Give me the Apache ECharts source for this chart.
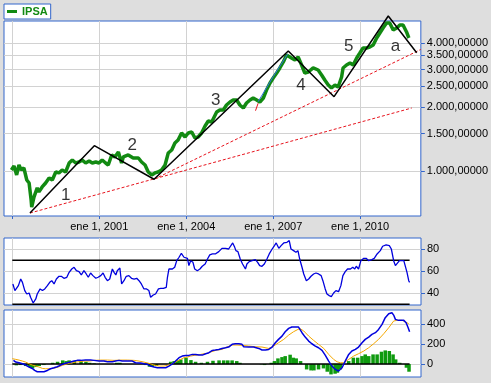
<!DOCTYPE html>
<html>
<head>
<meta charset="utf-8">
<script src="https://cdn.jsdelivr.net/npm/echarts@6/dist/echarts.min.js"></script>
<style>
html,body{margin:0;padding:0;background:#dedede;}
#c{width:491px;height:383px;}
</style>
</head>
<body>
<div id="c"></div>
<script>
// ---- data (x = decimal year) ----
const xTickYears = [1998, 2001, 2004, 2007, 2010];
const xLabelYears = [2001, 2004, 2007, 2010];
const priceTicks = [1000, 1500, 2000, 2500, 3000, 3500, 4000];
const rsiTicks = [40, 60, 80];
const macdTicks = [0, 200, 400];

const ipsa = [[1997.97,1011],[1998.06,1056],[1998.15,958],[1998.23,1067],[1998.31,1011],[1998.40,1033],[1998.50,907],[1998.58,878],[1998.65,730],[1998.67,677],[1998.75,755],[1998.86,832],[1998.92,797],[1999.03,841],[1999.15,878],[1999.27,927],[1999.38,907],[1999.50,989],[1999.61,979],[1999.72,1011],[1999.84,989],[1999.96,1090],[2000.07,1127],[2000.19,1090],[2000.30,1102],[2000.41,1127],[2000.53,1090],[2000.65,1114],[2000.76,1090],[2000.88,1102],[2000.99,1090],[2001.10,1127],[2001.22,1090],[2001.31,1067],[2001.43,1189],[2001.54,1164],[2001.66,1228],[2001.77,1090],[2001.83,1164],[2002.00,1189],[2002.17,1151],[2002.35,1151],[2002.46,1102],[2002.58,1067],[2002.69,989],[2002.81,958],[2002.92,979],[2003.03,989],[2003.15,1011],[2003.27,1067],[2003.38,1215],[2003.50,1255],[2003.61,1354],[2003.72,1399],[2003.84,1509],[2003.96,1445],[2004.07,1509],[2004.19,1525],[2004.30,1430],[2004.41,1445],[2004.53,1509],[2004.65,1628],[2004.76,1719],[2004.88,1700],[2005.05,1894],[2005.16,1936],[2005.28,1936],[2005.39,2044],[2005.51,2111],[2005.62,2158],[2005.74,2158],[2005.85,2044],[2005.97,1978],[2006.08,2088],[2006.20,2158],[2006.31,2205],[2006.43,2158],[2006.54,2111],[2006.66,2205],[2006.77,2404],[2006.89,2594],[2007.00,2738],[2007.12,2891],[2007.23,3052],[2007.35,3257],[2007.46,3513],[2007.51,3589],[2007.63,3401],[2007.75,3328],[2007.86,3438],[2007.98,3152],[2008.09,2891],[2008.21,2922],[2008.38,3052],[2008.55,2986],[2008.67,2829],[2008.78,2679],[2008.90,2538],[2009.01,2457],[2009.13,2538],[2009.24,2484],[2009.36,2768],[2009.41,3052],[2009.53,3152],[2009.65,3221],[2009.76,3152],[2009.88,3401],[2009.99,3589],[2010.10,3789],[2010.22,3789],[2010.33,3830],[2010.45,3914],[2010.57,4223],[2010.68,4459],[2010.79,4706],[2010.91,4968],[2011.02,4968],[2011.14,4606],[2011.26,4706],[2011.37,4862],[2011.48,4862],[2011.60,4507],[2011.68,4223]];

const wave = [[1998.61,634],[2000.83,1315],[2002.89,914],[2007.52,3667],[2009.10,2236],[2010.97,5358],[2011.95,3602]];
const fanLow = [[1998.61,634],[2011.78,1978]];
const fanMid = [[2002.89,914],[2012.09,3729]];
const redTick = [[2006.39,1921],[2006.48,2082]];
const blueTrend = [[2006.48,2118],[2007.00,2777],[2007.50,3550]];
const waveLabels = [[1999.84,771,'1'],[2002.14,1315,'2'],[2005.02,2158,'3'],[2007.96,2538,'4'],[2009.61,3843,'5'],[2011.22,3851,'a']];

const rsi = [[1998.02,48.5],[1998.09,42.5],[1998.15,41],[1998.21,47],[1998.29,53],[1998.35,50],[1998.43,42.5],[1998.50,39.4],[1998.58,40.3],[1998.63,36.4],[1998.72,31.2],[1998.81,34.9],[1998.86,39.4],[1998.96,44],[1999.04,42.5],[1999.12,44],[1999.21,47],[1999.29,50],[1999.36,51.5],[1999.44,48.5],[1999.52,53],[1999.61,55.5],[1999.69,55.5],[1999.78,53.7],[1999.88,54.6],[1999.96,59.1],[2000.05,62.1],[2000.13,63.7],[2000.21,60.6],[2000.30,59.7],[2000.38,56.7],[2000.47,60.6],[2000.55,57.6],[2000.62,54.6],[2000.70,58.5],[2000.78,56.1],[2000.88,53.7],[2000.96,54.6],[2001.05,56.1],[2001.13,58.5],[2001.20,54.6],[2001.28,51.5],[2001.36,53],[2001.45,62.1],[2001.51,59.1],[2001.57,56.7],[2001.62,60.6],[2001.71,63],[2001.77,48.5],[2001.85,51.5],[2001.93,55.5],[2002.02,56.1],[2002.11,53.7],[2002.20,53],[2002.29,53.7],[2002.37,51.5],[2002.45,48.5],[2002.54,44],[2002.63,44],[2002.71,42.5],[2002.77,36.4],[2002.86,38.5],[2002.94,39.4],[2003.04,44],[2003.12,44.5],[2003.21,44.5],[2003.31,45.5],[2003.35,54.6],[2003.40,62.1],[2003.46,63.7],[2003.52,62.1],[2003.60,63.7],[2003.67,69.7],[2003.75,72.8],[2003.83,76.4],[2003.92,72.8],[2003.98,71.2],[2004.04,71.8],[2004.09,65.2],[2004.15,69.7],[2004.23,68.2],[2004.29,62.1],[2004.38,60.6],[2004.47,62.1],[2004.55,64.6],[2004.65,66.7],[2004.73,71.2],[2004.81,74.9],[2004.90,75.8],[2005.00,75.8],[2005.12,77.9],[2005.23,80.9],[2005.35,80.9],[2005.46,80.3],[2005.52,81.8],[2005.60,85.8],[2005.67,81.8],[2005.71,78.8],[2005.78,77.9],[2005.86,71.2],[2005.94,66.7],[2006.04,62.1],[2006.09,66.7],[2006.17,68.8],[2006.27,69.7],[2006.38,70.6],[2006.46,68.2],[2006.53,65.2],[2006.61,64.6],[2006.69,66.7],[2006.78,71.2],[2006.86,75.8],[2006.96,80.3],[2007.04,83.4],[2007.10,85.8],[2007.19,80.9],[2007.27,83.4],[2007.36,85.8],[2007.47,86.4],[2007.55,87.9],[2007.61,80.3],[2007.70,78.8],[2007.78,77.3],[2007.85,78.8],[2007.91,71.2],[2007.99,63.7],[2008.05,57.6],[2008.14,51.5],[2008.22,53],[2008.30,55.5],[2008.39,57.6],[2008.47,58.5],[2008.56,57.6],[2008.65,56.1],[2008.71,51.5],[2008.79,44],[2008.85,39.4],[2008.93,37.9],[2009.00,37],[2009.08,40.3],[2009.16,42.5],[2009.25,41.5],[2009.33,47],[2009.40,56.1],[2009.48,59.7],[2009.56,62.1],[2009.66,62.1],[2009.74,63.7],[2009.81,62.1],[2009.86,64.6],[2009.94,62.1],[2010.02,69.7],[2010.12,71.8],[2010.20,71.8],[2010.29,69.7],[2010.40,70.6],[2010.48,71.8],[2010.58,75.8],[2010.69,78.8],[2010.77,82.8],[2010.89,84],[2011.00,83.4],[2011.07,80.3],[2011.15,69.7],[2011.21,65.2],[2011.27,66.7],[2011.35,69.7],[2011.42,69.7],[2011.50,69.7],[2011.55,68.2],[2011.61,59.1],[2011.67,51.5],[2011.70,50]];
const rsiUpper = [[1998.0,70],[2011.70,70]];
const rsiLower = [[1998.0,30],[2011.70,30]];

const macd = [[1998.04,37],[1998.12,20],[1998.23,13],[1998.35,3],[1998.46,-10],[1998.58,-30],[1998.69,-44],[1998.77,-64],[1998.86,-77],[1998.98,-77],[1999.09,-77],[1999.21,-64],[1999.32,-47],[1999.44,-37],[1999.55,-27],[1999.67,-10],[1999.78,3],[1999.90,13],[2000.01,20],[2000.13,30],[2000.24,37],[2000.36,37],[2000.53,40],[2000.70,40],[2000.82,37],[2000.99,30],[2001.16,30],[2001.28,23],[2001.45,23],[2001.56,30],[2001.68,37],[2001.79,30],[2001.97,30],[2002.14,30],[2002.25,13],[2002.43,10],[2002.54,3],[2002.66,-3],[2002.77,-20],[2002.89,-30],[2003.00,-37],[2003.17,-37],[2003.29,-37],[2003.40,-20],[2003.52,3],[2003.63,30],[2003.75,64],[2003.86,80],[2003.98,87],[2004.09,87],[2004.21,97],[2004.32,97],[2004.44,90],[2004.55,90],[2004.67,104],[2004.78,114],[2004.90,137],[2005.00,141],[2005.12,147],[2005.23,157],[2005.35,164],[2005.46,171],[2005.58,198],[2005.69,204],[2005.81,204],[2005.92,198],[2005.98,174],[2006.15,171],[2006.32,171],[2006.50,157],[2006.61,141],[2006.73,141],[2006.84,147],[2006.96,171],[2007.07,214],[2007.18,248],[2007.30,281],[2007.41,325],[2007.53,358],[2007.64,372],[2007.76,372],[2007.87,372],[2007.93,358],[2007.99,315],[2008.10,271],[2008.22,231],[2008.33,204],[2008.45,181],[2008.56,164],[2008.68,137],[2008.79,90],[2008.91,30],[2009.02,-20],[2009.14,-54],[2009.25,-70],[2009.37,-37],[2009.48,30],[2009.60,97],[2009.71,131],[2009.83,147],[2009.94,171],[2010.06,214],[2010.17,248],[2010.29,271],[2010.40,298],[2010.52,315],[2010.63,348],[2010.75,399],[2010.86,466],[2010.98,506],[2011.09,516],[2011.15,492],[2011.21,449],[2011.32,439],[2011.50,439],[2011.58,415],[2011.65,365],[2011.70,325]];

const signal = [[1998.00,54],[1998.12,47],[1998.23,40],[1998.35,30],[1998.46,20],[1998.58,3],[1998.69,-10],[1998.81,-20],[1998.92,-30],[1999.04,-44],[1999.15,-47],[1999.27,-47],[1999.38,-44],[1999.50,-37],[1999.61,-27],[1999.73,-13],[1999.84,-3],[1999.96,7],[2000.07,13],[2000.19,20],[2000.30,23],[2000.47,30],[2000.65,30],[2000.82,37],[2001.05,40],[2001.28,40],[2001.51,37],[2001.74,40],[2001.97,40],[2002.20,37],[2002.37,30],[2002.54,20],[2002.71,7],[2002.89,-10],[2003.06,-20],[2003.23,-20],[2003.35,-13],[2003.46,-3],[2003.58,13],[2003.69,30],[2003.81,47],[2003.92,64],[2004.04,70],[2004.15,80],[2004.27,87],[2004.38,90],[2004.50,97],[2004.61,104],[2004.73,107],[2004.84,121],[2005.06,141],[2005.23,147],[2005.40,171],[2005.58,191],[2005.75,191],[2005.92,188],[2006.15,181],[2006.38,174],[2006.61,171],[2006.84,157],[2007.01,181],[2007.18,214],[2007.36,248],[2007.53,291],[2007.70,325],[2007.85,348],[2007.93,355],[2008.05,332],[2008.22,281],[2008.39,238],[2008.56,198],[2008.74,157],[2008.91,97],[2009.08,47],[2009.20,23],[2009.31,13],[2009.43,13],[2009.60,47],[2009.77,80],[2009.94,104],[2010.12,131],[2010.29,164],[2010.46,204],[2010.63,248],[2010.81,305],[2010.98,365],[2011.15,432],[2011.26,439],[2011.44,439],[2011.55,425],[2011.67,405]];

const histogram = [[1998.14,-13],[1998.29,-10],[1998.46,-20],[1998.59,-30],[1998.70,-44],[1998.82,-30],[1998.93,-20],[1999.09,-10],[1999.39,13],[1999.56,23],[1999.74,37],[1999.86,30],[1999.96,37],[2000.14,30],[2000.37,30],[2000.54,23],[2000.67,13],[2000.82,7],[2001.60,13],[2001.71,13],[2002.59,-10],[2002.73,-27],[2002.83,-30],[2002.97,-20],[2003.46,23],[2003.58,30],[2003.69,37],[2003.81,47],[2003.99,64],[2004.16,40],[2004.32,23],[2004.52,13],[2004.73,23],[2004.92,33],[2005.13,37],[2005.29,37],[2005.43,37],[2005.58,37],[2005.74,30],[2005.85,13],[2006.59,-3],[2006.70,-10],[2006.93,13],[2007.04,30],[2007.16,57],[2007.30,70],[2007.41,80],[2007.58,94],[2007.69,64],[2007.79,57],[2007.94,30],[2008.15,-54],[2008.30,-64],[2008.40,-64],[2008.56,-54],[2008.73,-44],[2008.86,-77],[2008.99,-104],[2009.13,-97],[2009.21,-87],[2009.31,-54],[2009.60,30],[2009.76,64],[2009.91,64],[2010.06,80],[2010.17,97],[2010.29,80],[2010.44,97],[2010.58,97],[2010.73,124],[2010.86,137],[2011.00,131],[2011.13,97],[2011.22,47],[2011.36,13],[2011.59,-37],[2011.68,-77]];
const zeroLine = [[1998.0,0],[2011.70,0]];

// ---- styling ----
const BLUE = '#3366cc';
const GRID = '#d2d2d2';
const FONT = 'Liberation Sans';
const X_MIN = 1997.714, X_MAX = 2012.093;

function esNum(v) {
  const n = Math.round(v);
  return String(n).replace(/\B(?=(\d{3})+(?!\d))/g, '.') + ',00000';
}

function xAxisFor(i) {
  return {
    type: 'value', gridIndex: i, min: X_MIN, max: X_MAX,
    axisLine: {show: false},
    axisTick: {show: i === 0, customValues: xTickYears, length: 3, lineStyle: {color: BLUE}},
    axisLabel: {show: i === 0, customValues: xLabelYears, formatter: v => 'ene 1, ' + Math.round(v),
      margin: 5, color: '#000', fontSize: 11, fontFamily: FONT},
    splitLine: {show: true, lineStyle: {color: GRID, width: 1}}
  };
}
function yAxisFor(i, extra, ticks, fmt) {
  return Object.assign({
    gridIndex: i, position: 'right',
    axisLine: {show: false},
    axisTick: {show: true, customValues: ticks, length: 4, lineStyle: {color: BLUE}},
    axisLabel: {customValues: ticks, formatter: fmt, margin: 6, color: '#000', fontSize: 11, fontFamily: FONT},
    splitLine: {show: true, lineStyle: {color: GRID, width: 1}}
  }, extra);
}

const gridBase = {left: 4, width: 417, show: true, backgroundColor: '#fff', borderColor: BLUE, borderWidth: 1};

const option = {
  backgroundColor: '#dedede',
  animation: false,
  legend: {
    data: ['IPSA'], left: 4, top: 4, selectedMode: false,
    backgroundColor: '#fff', borderColor: BLUE, borderWidth: 1, borderRadius: 0,
    padding: [1, 3, 1, 3], icon: 'rect', itemWidth: 10, itemHeight: 3,
    textStyle: {color: '#128a12', fontWeight: 'bold', fontSize: 11, fontFamily: FONT, lineHeight: 13}
  },
  grid: [
    Object.assign({top: 21, height: 195}, gridBase),
    Object.assign({top: 238, height: 67}, gridBase),
    Object.assign({top: 310, height: 67}, gridBase)
  ],
  xAxis: [xAxisFor(0), xAxisFor(1), xAxisFor(2)],
  yAxis: [
    yAxisFor(0, {type: 'log', logBase: 10, min: 614, max: 5077}, priceTicks, esNum),
    yAxisFor(1, {type: 'value', min: 29.4, max: 90.3}, rsiTicks, v => String(Math.round(v))),
    yAxisFor(2, {type: 'value', min: -130, max: 543}, macdTicks, v => String(Math.round(v)))
  ],
  series: [
    {name: 'IPSA', type: 'line', xAxisIndex: 0, yAxisIndex: 0, data: ipsa, showSymbol: false,
      color: '#128a12', lineStyle: {color: '#128a12', width: 3.5}, z: 2},
    {type: 'line', xAxisIndex: 0, yAxisIndex: 0, data: fanLow, showSymbol: false,
      lineStyle: {color: '#e8141e', width: 1, type: [3, 2]}, z: 3},
    {type: 'line', xAxisIndex: 0, yAxisIndex: 0, data: fanMid, showSymbol: false,
      lineStyle: {color: '#e8141e', width: 1, type: [3, 2]}, z: 3},
    {type: 'line', xAxisIndex: 0, yAxisIndex: 0, data: redTick, showSymbol: false,
      lineStyle: {color: '#e8141e', width: 1}, z: 3},
    {type: 'line', xAxisIndex: 0, yAxisIndex: 0, data: blueTrend, showSymbol: false,
      lineStyle: {color: '#2f6fe0', width: 1}, z: 3},
    {type: 'line', xAxisIndex: 0, yAxisIndex: 0, data: wave, showSymbol: false, clip: false,
      lineStyle: {color: '#000', width: 1.5}, z: 4},
    {type: 'scatter', xAxisIndex: 0, yAxisIndex: 0, data: waveLabels, symbolSize: 1,
      itemStyle: {color: 'rgba(0,0,0,0)'}, z: 5,
      label: {show: true, position: 'inside', formatter: p => p.data[2],
        color: '#000', fontSize: 17, fontFamily: FONT}},

    {type: 'line', xAxisIndex: 1, yAxisIndex: 1, data: rsiUpper, showSymbol: false,
      lineStyle: {color: '#000', width: 1.5}, z: 2},
    {type: 'line', xAxisIndex: 1, yAxisIndex: 1, data: rsiLower, showSymbol: false,
      lineStyle: {color: '#000', width: 1.5}, z: 2},
    {type: 'line', xAxisIndex: 1, yAxisIndex: 1, data: rsi, showSymbol: false,
      lineStyle: {color: '#0000dd', width: 1.3}, z: 3},

    {type: 'bar', xAxisIndex: 2, yAxisIndex: 2, data: histogram, barWidth: 3.5,
      itemStyle: {color: '#0f9a0f'}, z: 1},
    {type: 'line', xAxisIndex: 2, yAxisIndex: 2, data: zeroLine, showSymbol: false,
      lineStyle: {color: '#000', width: 1.5}, z: 2},
    {type: 'line', xAxisIndex: 2, yAxisIndex: 2, data: signal, showSymbol: false,
      lineStyle: {color: '#f5a800', width: 1}, z: 3},
    {type: 'line', xAxisIndex: 2, yAxisIndex: 2, data: macd, showSymbol: false,
      lineStyle: {color: '#0000dd', width: 1.5}, z: 4}
  ]
};

const chart = echarts.init(document.getElementById('c'), null, {renderer: 'canvas'});
chart.setOption(option);
</script>
</body>
</html>
